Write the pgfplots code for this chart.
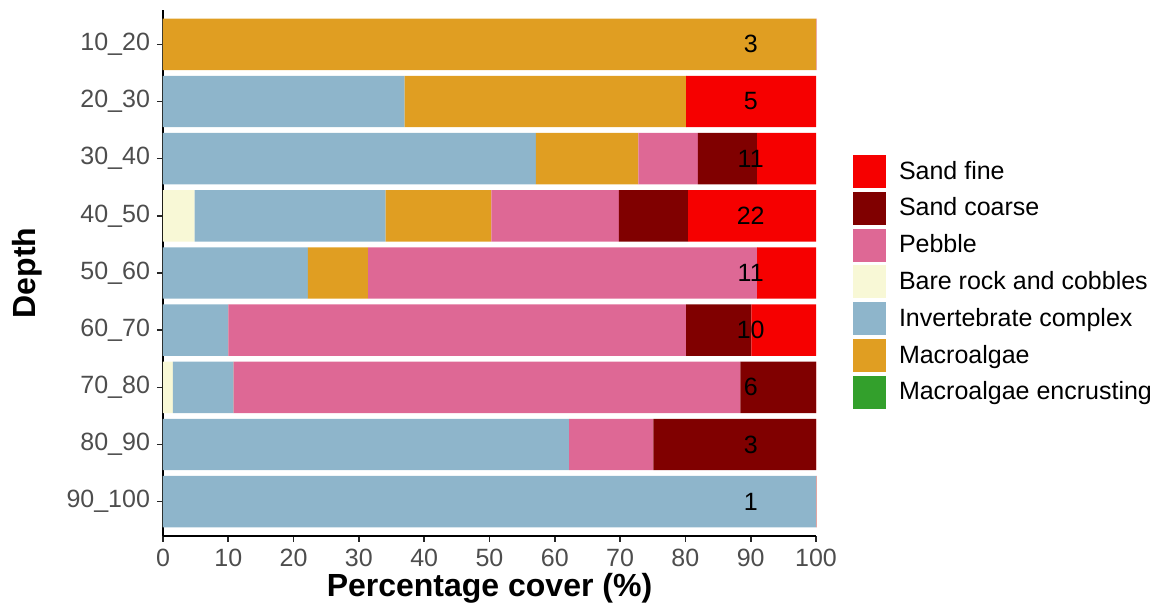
\documentclass[border=0pt]{standalone}
\usepackage{pgfplots}
\pgfplotsset{compat=1.18}
\usepackage{fontspec}
\setmainfont{Liberation Sans}
\definecolor{sandfine}{RGB}{246,0,0}
\definecolor{sandcoarse}{RGB}{128,0,0}
\definecolor{pebble}{RGB}{222,104,149}
\definecolor{barerock}{RGB}{248,248,214}
\definecolor{invert}{RGB}{142,181,203}
\definecolor{macro}{RGB}{224,158,34}
\definecolor{encrust}{RGB}{51,160,44}
\definecolor{ticktext}{RGB}{77,77,77}
\pgfplotsset{sqlegend/.style={legend image code/.code={\fill[##1, draw=none] (0pt,-8.25pt) rectangle (16.5pt,8.25pt);}}}
\newcommand{\lblfont}{\fontsize{12.5}{15}\selectfont}
\begin{document}
\begin{tikzpicture}
\begin{axis}[
  scale only axis, width=326.5pt, height=263pt,
  stack plots=x, reverse stacked plots=false,
  bar width=0.9,
  xmin=0, xmax=100, ymin=-0.6, ymax=8.6,
  ytick={0,...,8},
  yticklabels={90\_100,80\_90,70\_80,60\_70,50\_60,40\_50,30\_40,20\_30,10\_20},
  xtick={0,10,...,100},
  /pgf/number format/assume math mode=true,
  axis x line*=bottom, axis y line*=left,
  axis line style={-, line width=0.8pt, black},
  tick align=outside, major tick length=3pt,
  tick style={line width=0.8pt, color=black!85},
  ticklabel style={font=\lblfont, color=ticktext},
  xlabel={Percentage cover (\%)},
  ylabel={Depth},
  xlabel style={font=\bfseries\fontsize{16}{19}\selectfont, at={(axis description cs:0.5,0)}, anchor=center, yshift=-26pt},
  ylabel style={font=\bfseries\fontsize{16}{19}\selectfont, at={(axis description cs:0,0.5)}, anchor=center, yshift=68pt},
  legend style={at={(1,1)}, anchor=north west, xshift=18.5pt, yshift=-72.5pt,
    draw=none, fill=none, inner sep=0pt, outer sep=0pt, row sep=1.9pt, column sep=0pt,
    font=\lblfont,
    nodes={inner xsep=6.5pt, inner ysep=0pt, minimum height=16.5pt}},
  legend cell align=left,
]
\addplot[xbar, fill=barerock, draw=none, forget plot] coordinates {(0,8) (0,7) (0,6) (4.85,5) (0,4) (0,3) (1.5,2) (0,1) (0,0)};
\addplot[xbar, fill=invert, draw=none, forget plot] coordinates {(0,8) (37,7) (57.1,6) (29.25,5) (22.2,4) (10,3) (9.3,2) (62.2,1) (100,0)};
\addplot[xbar, fill=macro, draw=none, forget plot] coordinates {(100,8) (43.1,7) (15.7,6) (16.2,5) (9.2,4) (0,3) (0,2) (0,1) (0,0)};
\addplot[xbar, fill=pebble, draw=none, forget plot] coordinates {(0,8) (0,7) (9.1,6) (19.5,5) (59.6,4) (70.1,3) (77.6,2) (12.9,1) (0,0)};
\addplot[xbar, fill=sandcoarse, draw=none, forget plot] coordinates {(0,8) (0,7) (9.1,6) (10.6,5) (0,4) (10,3) (11.6,2) (24.9,1) (0,0)};
\addplot[xbar, fill=sandfine, draw=none, forget plot] coordinates {(0,8) (19.9,7) (9.0,6) (19.6,5) (9.0,4) (9.9,3) (0,2) (0,1) (0,0)};
\addlegendimage{sqlegend, fill=sandfine}\addlegendentry{Sand fine}
\addlegendimage{sqlegend, fill=sandcoarse}\addlegendentry{Sand coarse}
\addlegendimage{sqlegend, fill=pebble}\addlegendentry{Pebble}
\addlegendimage{sqlegend, fill=barerock}\addlegendentry{Bare rock and cobbles}
\addlegendimage{sqlegend, fill=invert}\addlegendentry{Invertebrate complex}
\addlegendimage{sqlegend, fill=macro}\addlegendentry{Macroalgae}
\addlegendimage{sqlegend, fill=encrust}\addlegendentry{Macroalgae encrusting}
\node[font=\lblfont, inner sep=0pt] at (axis cs:90,8) {3};
\node[font=\lblfont, inner sep=0pt] at (axis cs:90,7) {5};
\node[font=\lblfont, inner sep=0pt] at (axis cs:90,6) {11};
\node[font=\lblfont, inner sep=0pt] at (axis cs:90,5) {22};
\node[font=\lblfont, inner sep=0pt] at (axis cs:90,4) {11};
\node[font=\lblfont, inner sep=0pt] at (axis cs:90,3) {10};
\node[font=\lblfont, inner sep=0pt] at (axis cs:90,2) {6};
\node[font=\lblfont, inner sep=0pt] at (axis cs:90,1) {3};
\node[font=\lblfont, inner sep=0pt] at (axis cs:90,0) {1};
\end{axis}
\path (current axis.south west) ++(-81.5pt,-37pt) rectangle ++(586.5pt,305pt);
\end{tikzpicture}
\end{document}
